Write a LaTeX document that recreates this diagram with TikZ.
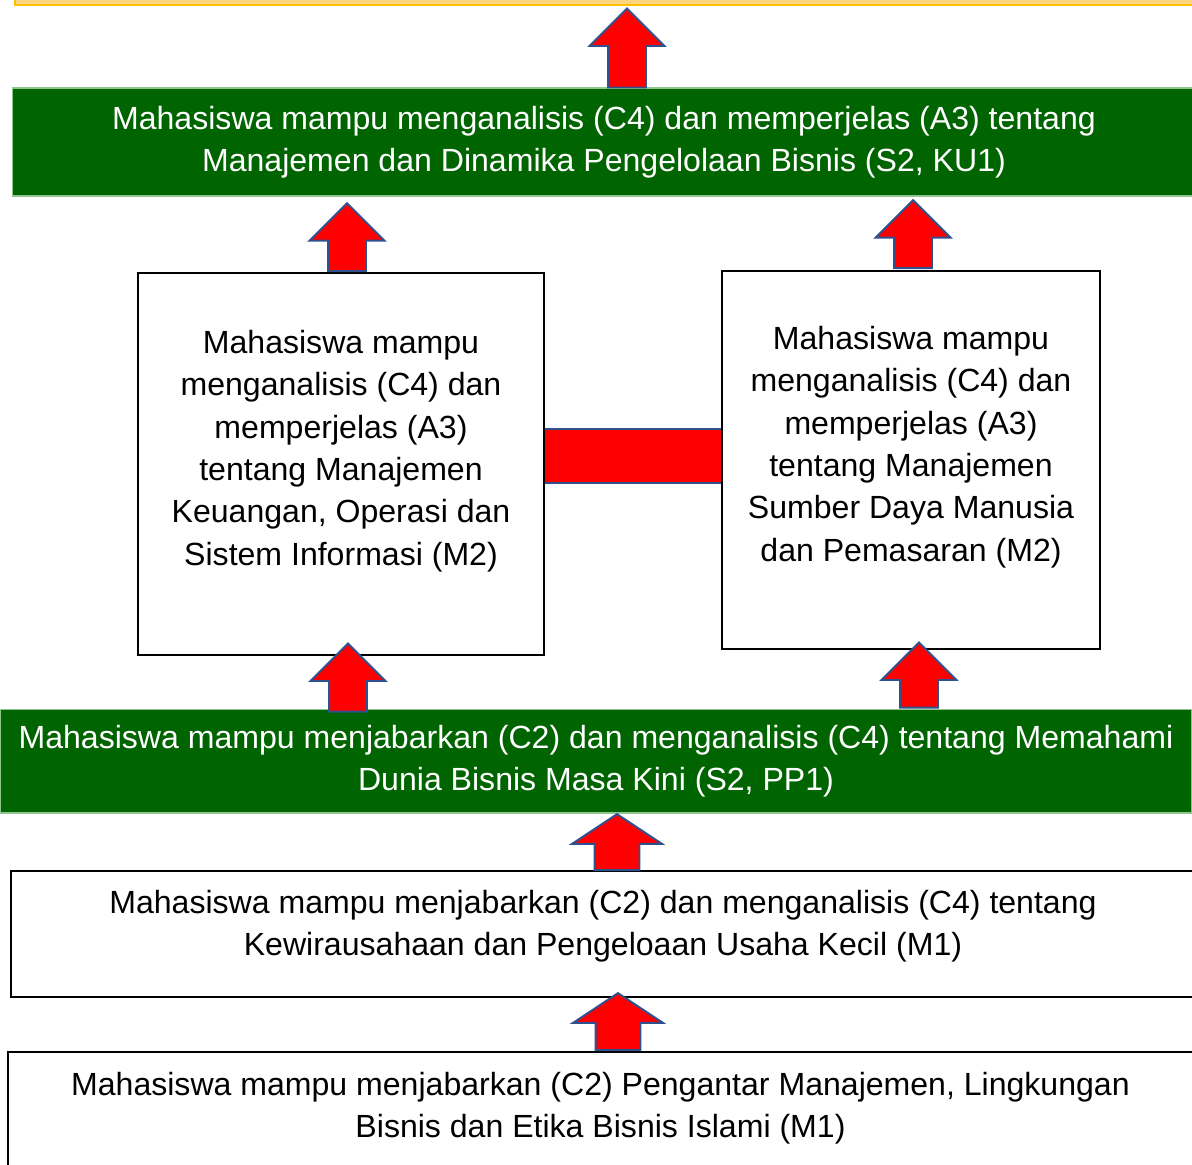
\documentclass[tikz,border=0pt]{standalone}
\usepackage{fontspec}
\setmainfont{Liberation Sans}
\usetikzlibrary{positioning,calc,shapes.arrows,backgrounds}
\definecolor{goalFill}{HTML}{FFD580}
\definecolor{goalEdge}{HTML}{FFC000}
\definecolor{darkGreen}{HTML}{006400}
\definecolor{greenEdge}{HTML}{8FC58F}
\definecolor{arrowEdge}{HTML}{2F528F}
\tikzset{
  goalBox/.style={rectangle, fill=goalFill, draw=goalEdge, line width=1.1pt, inner sep=0pt},
  greenBox/.style={rectangle, fill=darkGreen, draw=greenEdge, line width=0.6pt, text=white, align=center, inner sep=0pt},
  plainBox/.style={rectangle, fill=white, draw=black, line width=1.1pt, inner sep=0pt},
  boxText/.style={align=center, inner sep=0pt},
  upArrow/.style={single arrow, shape border rotate=90, anchor=tail, fill=red, draw=arrowEdge, line width=1.1pt, inner xsep=0.36cm, inner ysep=0pt, single arrow head extend=0.37cm},
  wideArrow/.style={upArrow, inner xsep=0.43cm, single arrow head extend=0.45cm, single arrow tip angle=113},
  barEdge/.style={draw=arrowEdge, line width=1.1pt}
}

\begin{document}
\begin{tikzpicture}[x=0.02cm, y=-0.02cm, font=\fontsize{18.25}{24.1}\selectfont]
  \useasboundingbox (0,0) rectangle (1192,1164);
  % boxes, top to bottom
  \node [goalBox, minimum width=23.9cm, minimum height=0.5cm] (goal) at (612,-7.5) {};
  \node [greenBox, minimum width=23.68cm, minimum height=2.16cm] (g1) at (604,142)
    {Mahasiswa mampu menganalisis (C4) dan memperjelas (A3) tentang\\Manajemen dan Dinamika Pengelolaan Bisnis (S2, KU1)};
  \node [plainBox, minimum width=8.12cm, minimum height=7.64cm] (fin) at (341,464) {};
  \node [boxText] (finTxt) at ($(fin.center)+(0,-13)$)
    {Mahasiswa mampu\\menganalisis (C4) dan\\memperjelas (A3)\\tentang Manajemen\\Keuangan, Operasi dan\\Sistem Informasi (M2)};
  \node [plainBox, minimum width=7.56cm, minimum height=7.56cm] (sdm) at (911,460) {};
  \node [boxText] (sdmTxt) at ($(sdm.center)+(0,-13)$)
    {Mahasiswa mampu\\menganalisis (C4) dan\\memperjelas (A3)\\tentang Manajemen\\Sumber Daya Manusia\\dan Pemasaran (M2)};
  \node [greenBox, minimum width=23.84cm, minimum height=2.08cm] (g2) at (596,761)
    {Mahasiswa mampu menjabarkan (C2) dan menganalisis (C4) tentang Memahami\\Dunia Bisnis Masa Kini (S2, PP1)};
  \node [plainBox, minimum width=23.68cm, minimum height=2.52cm] (m1) at (603,934) {};
  \node [boxText] (m1Txt) at ($(m1.center)+(0,-8)$)
    {Mahasiswa mampu menjabarkan (C2) dan menganalisis (C4) tentang\\Kewirausahaan dan Pengeloaan Usaha Kecil (M1)};
  \node [plainBox, minimum width=23.7cm, minimum height=3.16cm] (base) at (600.5,1131) {};
  \node [boxText] (baseTxt) at ($(base.center)+(0,-23)$)
    {Mahasiswa mampu menjabarkan (C2) Pengantar Manajemen, Lingkungan\\Bisnis dan Etika Bisnis Islami (M1)};

  % link between the two middle boxes
  \begin{scope}[on background layer]
    \fill [red] ($(fin.east)+(0,-35)$) coordinate (barA) rectangle ($(sdm.west)+(0,23)$) coordinate (barB);
    \draw [barEdge] (barA) -- (barA -| barB) (barA |- barB) -- (barB);
  \end{scope}

  % block arrows
  \node [upArrow, minimum height=1.58cm] (a1) at ($(g1.north)+(23,1)$) {};
  \node [upArrow, minimum height=1.36cm] (a2) at ($(fin.north)+(6,0)$) {};
  \node [upArrow, minimum height=1.36cm] (a3) at ($(sdm.north)+(2,-1)$) {};
  \node [upArrow, minimum height=1.36cm] (a4) at ($(fin.south |- g2.north)+(7,4)$) {};
  \node [upArrow, minimum height=1.30cm] (a5) at ($(sdm.south |- g2.north)+(8,0)$) {};
  \node [wideArrow, minimum height=1.12cm] (a6) at ($(m1.north)+(14,1)$) {};
  \node [wideArrow, minimum height=1.14cm] (a7) at ($(base.north)+(17.5,0)$) {};
\end{tikzpicture}
\end{document}
